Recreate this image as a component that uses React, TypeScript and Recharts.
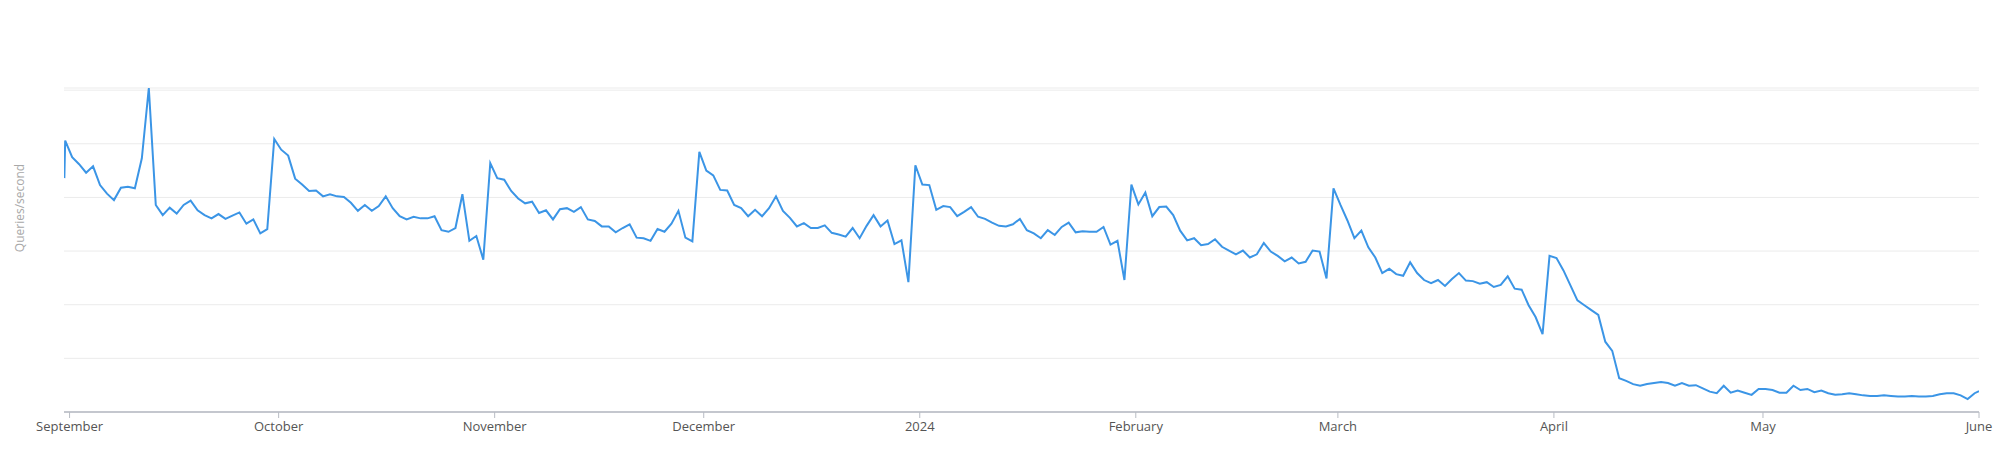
import React from 'react';
import { LineChart, Line, XAxis, YAxis, CartesianGrid } from 'recharts';

// daily queries/second, one array per month (Sept 2023 .. June 2024)
const sep = [506, 475, 462, 446, 458, 423, 407, 395, 418, 420, 417, 473, 604, 386, 367, 381, 370, 386, 394, 376, 367, 361, 369, 360, 366, 372, 351, 359, 333, 341];
const oct = [509, 489, 478, 435, 424, 412, 413, 402, 406, 402, 401, 390, 375, 386, 375, 384, 402, 380, 365, 359, 364, 361, 361, 365, 339, 336, 343, 406, 319, 328, 284];
const nov = [464, 436, 433, 412, 398, 389, 392, 371, 376, 359, 378, 380, 373, 382, 359, 356, 346, 346, 335, 343, 350, 325, 324, 319, 341, 336, 351, 375, 325, 318];
const dec = [485, 450, 441, 414, 413, 386, 380, 365, 377, 365, 380, 402, 375, 362, 346, 352, 343, 343, 348, 334, 331, 327, 343, 324, 347, 367, 346, 357, 313, 320, 242];
const jan = [460, 424, 423, 377, 384, 382, 365, 373, 382, 364, 360, 353, 347, 346, 350, 360, 339, 333, 324, 339, 330, 345, 353, 335, 337, 336, 336, 345, 312, 319, 246];
const feb = [424, 387, 409, 365, 382, 383, 367, 338, 320, 324, 311, 313, 322, 308, 301, 294, 301, 288, 294, 315, 299, 291, 281, 288, 277, 280, 301, 299, 249];
const mar = [417, 386, 357, 324, 338, 307, 288, 259, 267, 257, 254, 279, 259, 246, 240, 246, 235, 248, 259, 245, 244, 239, 242, 233, 237, 253, 230, 228, 199, 177, 145];
const apr = [291, 287, 264, 236, 208, 199, 190, 181, 131, 114, 63, 58, 52, 49, 52, 54, 56, 54, 49, 54, 49, 50, 44, 38, 35, 49, 36, 40, 36, 32];
const may = [43, 43, 41, 36, 36, 49, 41, 43, 37, 40, 35, 32, 33, 35, 33, 31, 30, 30, 31, 30, 29, 29, 30, 29, 29, 30, 33, 35, 35, 31, 24];
const jun = [35];

// partial buckets at the very edges of the queried range
const startPartial = { day: -0.75, qps: 436 };
const endPartial = { day: 274, qps: 39 };

// daily buckets are stamped a bit before local midnight
const BUCKET_SHIFT = -0.63;

const monthTicks = [0, 30, 61, 91, 122, 153, 182, 213, 243, 274];
const monthLabels = ['September', 'October', 'November', 'December', '2024', 'February', 'March', 'April', 'May', 'June'];

const yTicks = [0, 100, 200, 300, 400, 500, 600];

const daily = [...sep, ...oct, ...nov, ...dec, ...jan, ...feb, ...mar, ...apr, ...may, ...jun];
const data = [
  startPartial,
  ...daily.map((qps, i) => ({ day: i + BUCKET_SHIFT, qps })),
  endPartial,
];

const FONT = '"Open Sans", "Noto Sans", sans-serif';

const AxisTitle = (props: any) => {
  const { viewBox } = props;
  const x = viewBox.x + 19.5;
  const y = viewBox.y + viewBox.height / 2 - 42;
  return (
    <text
      x={x}
      y={y}
      transform={`rotate(-90 ${x} ${y})`}
      textAnchor="middle"
      dominantBaseline="central"
      fill="#a8a8a8"
      fontSize={12}
      fontFamily={FONT}
    >
      Queries/second
    </text>
  );
};

export default function App() {
  return (
    <div style={{ position: 'absolute', left: 0, top: 0, width: 2000, height: 464, background: '#fff' }}>
      <LineChart
        width={2000}
        height={464}
        data={data}
        margin={{ top: 88, right: 21, left: 0, bottom: 22 }}
      >
        <CartesianGrid vertical={false} stroke="#ebebeb" strokeWidth={1} />
        <XAxis
          type="number"
          dataKey="day"
          height={30}
          domain={[-0.8, 274]}
          ticks={monthTicks}
          interval={0}
          allowDataOverflow
          tickFormatter={(v: number) => monthLabels[monthTicks.indexOf(v)]}
          tick={{ fontSize: 13, fill: '#555', fontFamily: FONT }}
          tickLine={{ stroke: '#b8bcc4' }}
          tickSize={6}
          tickMargin={4}
          axisLine={{ stroke: '#c4c7ce', strokeWidth: 2 }}
        />
        <YAxis
          width={64}
          domain={[0, 600]}
          ticks={yTicks}
          interval={0}
          tick={{ fill: 'none', fontSize: 11, fontFamily: FONT }}
          tickLine={false}
          axisLine={false}
          label={{ content: <AxisTitle /> }}
        />
        <Line
          type="linear"
          dataKey="qps"
          stroke="#3b95e6"
          strokeWidth={2}
          dot={false}
          isAnimationActive={false}
        />
      </LineChart>
    </div>
  );
}
